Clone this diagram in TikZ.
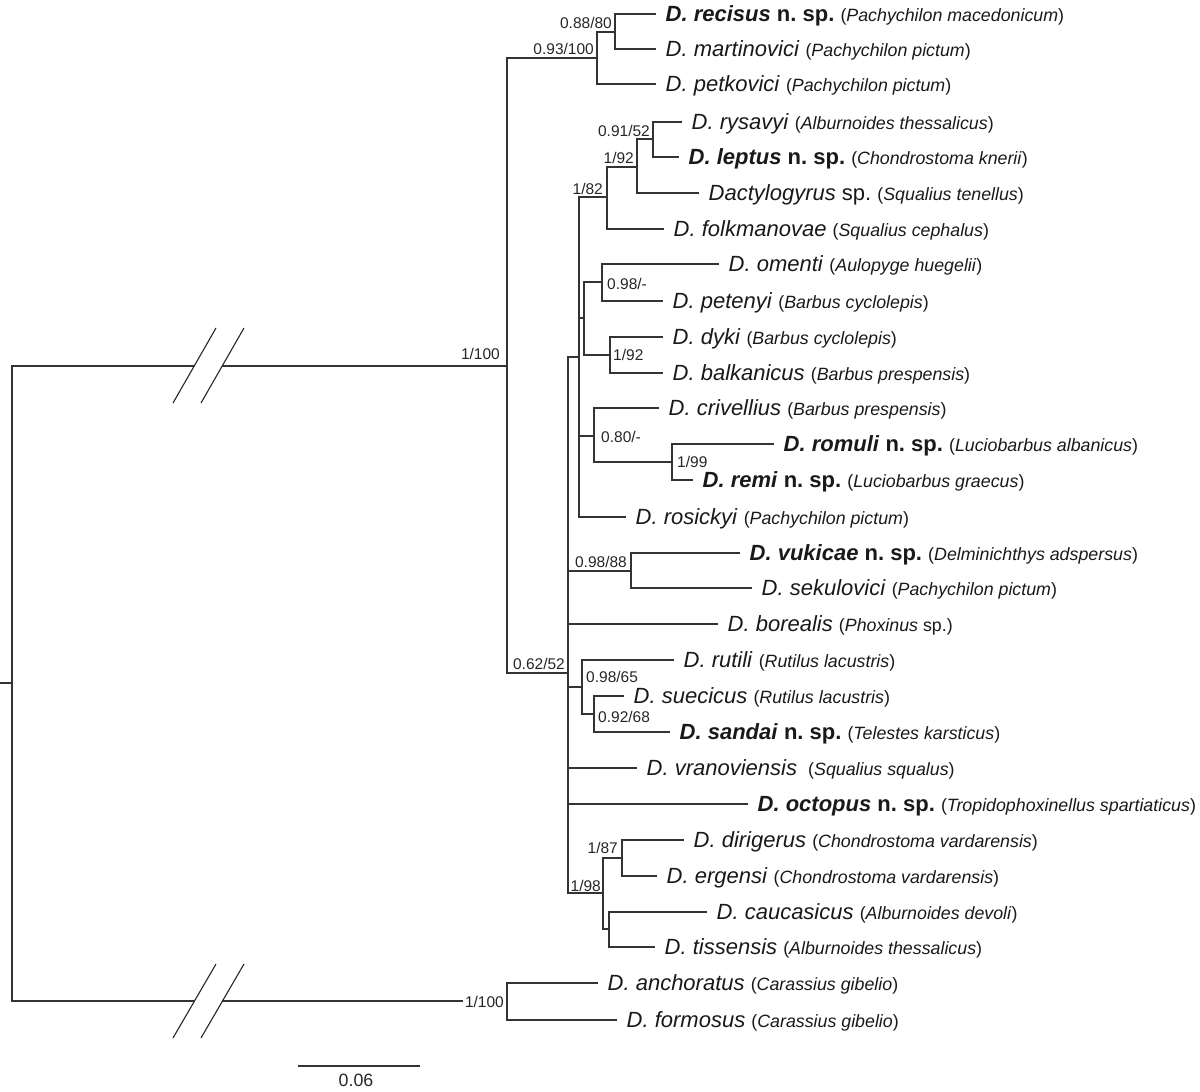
\documentclass[tikz,border=0pt]{standalone}
\usepackage{fontspec}
\setmainfont{Liberation Sans}
\frenchspacing
\newcommand\tx{\fontsize{22}{26}\selectfont}
\newcommand\hs{\fontsize{17.8}{20}\selectfont}
\newcommand\sv{\fontsize{15.5}{18}\selectfont}
\newcommand\mytax[2]{\textit{#1} {\hs(\textit{#2})}}
\newcommand\mynew[2]{\textbf{\textit{#1} n. sp.} {\hs(\textit{#2})}}
\begin{document}
\begin{tikzpicture}[x=1pt,y=-1pt,
  br/.style={draw=black!80, line width=1.2pt},
  brk/.style={draw=black!85, line width=1.1pt},
  leaf/.style={anchor=base west, inner sep=0pt, xshift=9.5pt, yshift=-7pt, font=\tx, text=black!90},
  supL/.style={anchor=base east, inner sep=0pt, font=\sv, text=black!85},
  supR/.style={anchor=base west, inner sep=0pt, font=\sv, text=black!85}]
\useasboundingbox (0,0) rectangle (1200,1092);

% internal nodes
\coordinate (stub) at (0,683);
\coordinate (R) at (12,683);
\coordinate (A) at (507,366);
\coordinate (O) at (507,1001);
\coordinate (B) at (597,58);
\coordinate (C) at (615,32);
\coordinate (P) at (568,673);
\coordinate (D) at (579,357);
\coordinate (E) at (607,197);
\coordinate (F) at (637,167);
\coordinate (G) at (653,139);
\coordinate (Q) at (584,318);
\coordinate (H) at (602,282);
\coordinate (I) at (610,355);
\coordinate (J) at (594,436);
\coordinate (K) at (672,462);
\coordinate (L) at (631,571);
\coordinate (M) at (582,687);
\coordinate (N) at (594,714);
\coordinate (S) at (603,893);
\coordinate (T) at (622,858);
\coordinate (U) at (609,929);

% break points
\coordinate (a1) at (194,366);
\coordinate (a2) at (222,366);
\coordinate (o1) at (194,1001);
\coordinate (o2) at (222,1001);
\coordinate (sa1) at (173,403); \coordinate (sa2) at (216,328);
\coordinate (sb1) at (201,403); \coordinate (sb2) at (244,328);
\coordinate (sc1) at (173,1038); \coordinate (sc2) at (216,964);
\coordinate (sd1) at (201,1038); \coordinate (sd2) at (244,964);

% leaf tips
\coordinate (l1) at (656,14);
\coordinate (l2) at (656,49);
\coordinate (l3) at (656,84);
\coordinate (l4) at (682,122);
\coordinate (l5) at (679,157);
\coordinate (l6) at (699,193);
\coordinate (l7) at (664,229);
\coordinate (l8) at (719,264);
\coordinate (l9) at (663,301);
\coordinate (l10) at (663,337);
\coordinate (l11) at (663,373);
\coordinate (l12) at (659,408);
\coordinate (l13) at (774,444);
\coordinate (l14) at (693,480);
\coordinate (l15) at (626,517);
\coordinate (l16) at (740,553);
\coordinate (l17) at (752,588);
\coordinate (l18) at (718,624);
\coordinate (l19) at (674,660);
\coordinate (l20) at (624,696);
\coordinate (l21) at (670,732);
\coordinate (l22) at (637,768);
\coordinate (l23) at (748,804);
\coordinate (l24) at (684,840);
\coordinate (l25) at (657,876);
\coordinate (l26) at (707,912);
\coordinate (l27) at (655,947);
\coordinate (l28) at (598,983);
\coordinate (l29) at (617,1020);

% branches
\draw[br] (stub) -- (R);
\draw[br] (R) |- (a1);
\draw[br] (a2) -- (A);
\draw[br] (R) |- (o1);
\draw[br] (o2) -- (O);
\draw[br] (A) |- (B);
\draw[br] (A) |- (P);
\draw[br] (B) |- (C);
\draw[br] (C) |- (l1);
\draw[br] (C) |- (l2);
\draw[br] (B) |- (l3);
\draw[br] (P) |- (D);
\draw[br] (D) |- (E);
\draw[br] (E) |- (F);
\draw[br] (F) |- (G);
\draw[br] (G) |- (l4);
\draw[br] (G) |- (l5);
\draw[br] (F) |- (l6);
\draw[br] (E) |- (l7);
\draw[br] (D) |- (Q);
\draw[br] (Q) |- (H);
\draw[br] (H) |- (l8);
\draw[br] (H) |- (l9);
\draw[br] (Q) |- (I);
\draw[br] (I) |- (l10);
\draw[br] (I) |- (l11);
\draw[br] (D) |- (J);
\draw[br] (J) |- (l12);
\draw[br] (J) |- (K);
\draw[br] (K) |- (l13);
\draw[br] (K) |- (l14);
\draw[br] (D) |- (l15);
\draw[br] (P) |- (L);
\draw[br] (L) |- (l16);
\draw[br] (L) |- (l17);
\draw[br] (P) |- (l18);
\draw[br] (P) |- (M);
\draw[br] (M) |- (l19);
\draw[br] (M) |- (N);
\draw[br] (N) |- (l20);
\draw[br] (N) |- (l21);
\draw[br] (P) |- (l22);
\draw[br] (P) |- (l23);
\draw[br] (P) |- (S);
\draw[br] (S) |- (T);
\draw[br] (T) |- (l24);
\draw[br] (T) |- (l25);
\draw[br] (S) |- (U);
\draw[br] (U) |- (l26);
\draw[br] (U) |- (l27);
\draw[br] (O) |- (l28);
\draw[br] (O) |- (l29);

% break marks
\draw[brk] (sa1) -- (sa2);
\draw[brk] (sb1) -- (sb2);
\draw[brk] (sc1) -- (sc2);
\draw[brk] (sd1) -- (sd2);

% leaf labels
\node[leaf] (t1) at (l1) {\mynew{D. recisus}{Pachychilon macedonicum}};
\node[leaf] (t2) at (l2) {\mytax{D. martinovici}{Pachychilon pictum}};
\node[leaf] (t3) at (l3) {\mytax{D. petkovici}{Pachychilon pictum}};
\node[leaf] (t4) at (l4) {\mytax{D. rysavyi}{Alburnoides thessalicus}};
\node[leaf] (t5) at (l5) {\mynew{D. leptus}{Chondrostoma knerii}};
\node[leaf] (t6) at (l6) {\textit{Dactylogyrus} sp. {\hs(\textit{Squalius tenellus})}};
\node[leaf] (t7) at (l7) {\mytax{D. folkmanovae}{Squalius cephalus}};
\node[leaf] (t8) at (l8) {\mytax{D. omenti}{Aulopyge huegelii}};
\node[leaf] (t9) at (l9) {\mytax{D. petenyi}{Barbus cyclolepis}};
\node[leaf] (t10) at (l10) {\mytax{D. dyki}{Barbus cyclolepis}};
\node[leaf] (t11) at (l11) {\mytax{D. balkanicus}{Barbus prespensis}};
\node[leaf] (t12) at (l12) {\mytax{D. crivellius}{Barbus prespensis}};
\node[leaf] (t13) at (l13) {\mynew{D. romuli}{Luciobarbus albanicus}};
\node[leaf] (t14) at (l14) {\mynew{D. remi}{Luciobarbus graecus}};
\node[leaf] (t15) at (l15) {\mytax{D. rosickyi}{Pachychilon pictum}};
\node[leaf] (t16) at (l16) {\mynew{D. vukicae}{Delminichthys adspersus}};
\node[leaf] (t17) at (l17) {\mytax{D. sekulovici}{Pachychilon pictum}};
\node[leaf] (t18) at (l18) {\textit{D. borealis} {\hs(\textit{Phoxinus} sp.)}};
\node[leaf] (t19) at (l19) {\mytax{D. rutili}{Rutilus lacustris}};
\node[leaf] (t20) at (l20) {\mytax{D. suecicus}{Rutilus lacustris}};
\node[leaf] (t21) at (l21) {\mynew{D. sandai}{Telestes karsticus}};
\node[leaf] (t22) at (l22) {\textit{D. vranoviensis}\hspace{5pt} {\hs(\textit{Squalius squalus})}};
\node[leaf] (t23) at (l23) {\mynew{D. octopus}{Tropidophoxinellus spartiaticus}};
\node[leaf] (t24) at (l24) {\mytax{D. dirigerus}{Chondrostoma vardarensis}};
\node[leaf] (t25) at (l25) {\mytax{D. ergensi}{Chondrostoma vardarensis}};
\node[leaf] (t26) at (l26) {\mytax{D. caucasicus}{Alburnoides devoli}};
\node[leaf] (t27) at (l27) {\mytax{D. tissensis}{Alburnoides thessalicus}};
\node[leaf] (t28) at (l28) {\mytax{D. anchoratus}{Carassius gibelio}};
\node[leaf] (t29) at (l29) {\mytax{D. formosus}{Carassius gibelio}};

% support values
\node[supL] (vA) at ([shift={(-7,-7)}]A) {1/100};
\node[supL, fill=white, inner sep=2pt] (vO) at ([shift={(-1,6)}]O) {1/100};
\node[supL] (vB) at ([shift={(-3,-4)}]B) {0.93/100};
\node[supL] (vC) at ([shift={(-3,-4)}]C) {0.88/80};
\node[supL] (vG) at ([shift={(-3,-3)}]G) {0.91/52};
\node[supL] (vF) at ([shift={(-3,-4)}]F) {1/92};
\node[supL] (vE) at ([shift={(-4,-3)}]E) {1/82};
\node[supR] (vH) at ([shift={(5,7)}]H) {0.98/-};
\node[supR] (vI) at ([shift={(3,5)}]I) {1/92};
\node[supR] (vJ) at ([shift={(7,6)}]J) {0.80/-};
\node[supR] (vK) at ([shift={(5,5)}]K) {1/99};
\node[supL] (vP) at ([shift={(-3,-4)}]P) {0.62/52};
\node[supL] (vL) at ([shift={(-4,-4)}]L) {0.98/88};
\node[supR] (vM) at ([shift={(4,-5)}]M) {0.98/65};
\node[supR] (vN) at ([shift={(4,8)}]N) {0.92/68};
\node[supL] (vT) at ([shift={(-4,-5)}]T) {1/87};
\node[supL] (vS) at ([shift={(-2,-2)}]S) {1/98};

% scale bar
\coordinate (s1) at (298,1066);
\coordinate (s2) at (420,1066);
\draw[br] (s1) -- (s2);
\node[anchor=base, inner sep=0pt, font=\hs, text=black!85] (sl) at (356,1086) {0.06};
\end{tikzpicture}
\end{document}
